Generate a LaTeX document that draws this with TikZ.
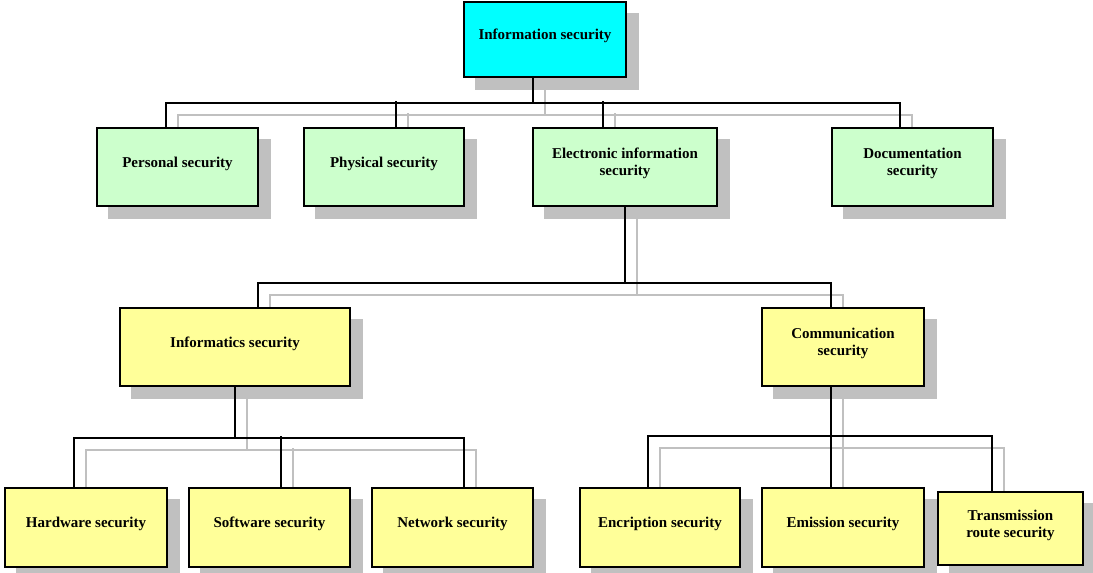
\documentclass[tikz,border=0pt]{standalone}
\usepackage{fontspec}
\setmainfont{Liberation Serif}
\definecolor{topcyan}{RGB}{0,255,255}
\definecolor{boxgreen}{RGB}{204,255,204}
\definecolor{boxyellow}{RGB}{255,255,153}
\definecolor{shadowgray}{RGB}{192,192,192}
\pgfdeclarelayer{bg}
\pgfsetlayers{bg,main}
\tikzset{
	box/.style={draw, line width=2pt, align=center, inner sep=2pt, text depth=10pt,
		font=\fontsize{15}{17}\selectfont\bfseries, minimum height=78pt},
	link/.style={draw=black, line width=2.2pt},
	glink/.style={draw=shadowgray, line width=2.5pt,
		transform canvas={xshift=12pt,yshift=-12pt}},
}
% all connectors of the tree, drawn with the given style
\newcommand\treelinks[1]{%
	\draw[#1] ([xshift=-12pt]info.south) -- ++(0,25) -| ([xshift=-11.5pt]pers.north);
	\draw[#1] ([xshift=-12pt]info.south) -- ++(0,25) -| ([xshift=-12.5pt]doc.north);
	\draw[#1] ([xshift=12pt]phys.north) -- ++(0,-26);
	\draw[#1] ([xshift=-22pt]elec.north) -- ++(0,-26);
	\draw[#1] (elec.south) -- ++(0,76) -| ([xshift=23pt]infs.north);
	\draw[#1] (elec.south) -- ++(0,76) -| ([xshift=-12pt]comm.north);
	\draw[#1] (infs.south) -- ++(0,51) -| ([xshift=-12pt]hard.north);
	\draw[#1] (infs.south) -- ++(0,51) -| ([xshift=11.5pt]netw.north);
	\draw[#1] ([xshift=11.5pt]soft.north) -- ++(0,-51);
	\draw[#1] ([xshift=-12pt]comm.south) -- ++(0,49) -| ([xshift=-12pt]encr.north);
	\draw[#1] ([xshift=-12pt]comm.south) -- ++(0,49) -| ([xshift=-18.5pt]tran.north);
	\draw[#1] ([xshift=-12pt]comm.south) -- ([xshift=-12pt]emis.north);
}
\begin{document}
\begin{tikzpicture}[x=1pt,y=-1pt]
	\useasboundingbox (0,0) rectangle (1093,573);
	% Top
	\node[box, fill=topcyan, minimum width=162pt, minimum height=75pt] (info) at (545,39.5) {Information security};
	% Level 1
	\node[box, fill=boxgreen, minimum width=161pt] (pers) at (177.5,167) {Personal security};
	\node[box, fill=boxgreen, minimum width=160pt] (phys) at (384,167) {Physical security};
	\node[box, fill=boxgreen, minimum width=184pt] (elec) at (625,167) {Electronic information\\security};
	\node[box, fill=boxgreen, minimum width=161pt] (doc) at (912.5,167) {Documentation\\security};
	% Level 2
	\node[box, fill=boxyellow, minimum width=230pt] (infs) at (235,347) {Informatics security};
	\node[box, fill=boxyellow, minimum width=162pt] (comm) at (843,347) {Communication\\security};
	% Level 3
	\node[box, fill=boxyellow, minimum width=162pt, minimum height=79pt] (hard) at (86,527.5) {Hardware security};
	\node[box, fill=boxyellow, minimum width=161pt, minimum height=79pt] (soft) at (269.5,527.5) {Software security};
	\node[box, fill=boxyellow, minimum width=161pt, minimum height=79pt] (netw) at (452.5,527.5) {Network security};
	\node[box, fill=boxyellow, minimum width=160pt, minimum height=79pt] (encr) at (660,527.5) {Encription security};
	\node[box, fill=boxyellow, minimum width=162pt, minimum height=79pt] (emis) at (843,527.5) {Emission security};
	\node[box, fill=boxyellow, minimum width=145pt, minimum height=73pt] (tran) at (1010.5,528.5) {Transmission\\route security};

	\begin{pgfonlayer}{bg}
		% Shadows
		\foreach \n in {info,pers,phys,elec,doc,infs,comm,hard,soft,netw,encr,emis,tran}
			\fill[shadowgray] ([shift={(12,12)}]\n.south west) rectangle ([shift={(12,12)}]\n.north east);
		% Connectors
		\treelinks{glink}
		\treelinks{link}
	\end{pgfonlayer}
\end{tikzpicture}
\end{document}
